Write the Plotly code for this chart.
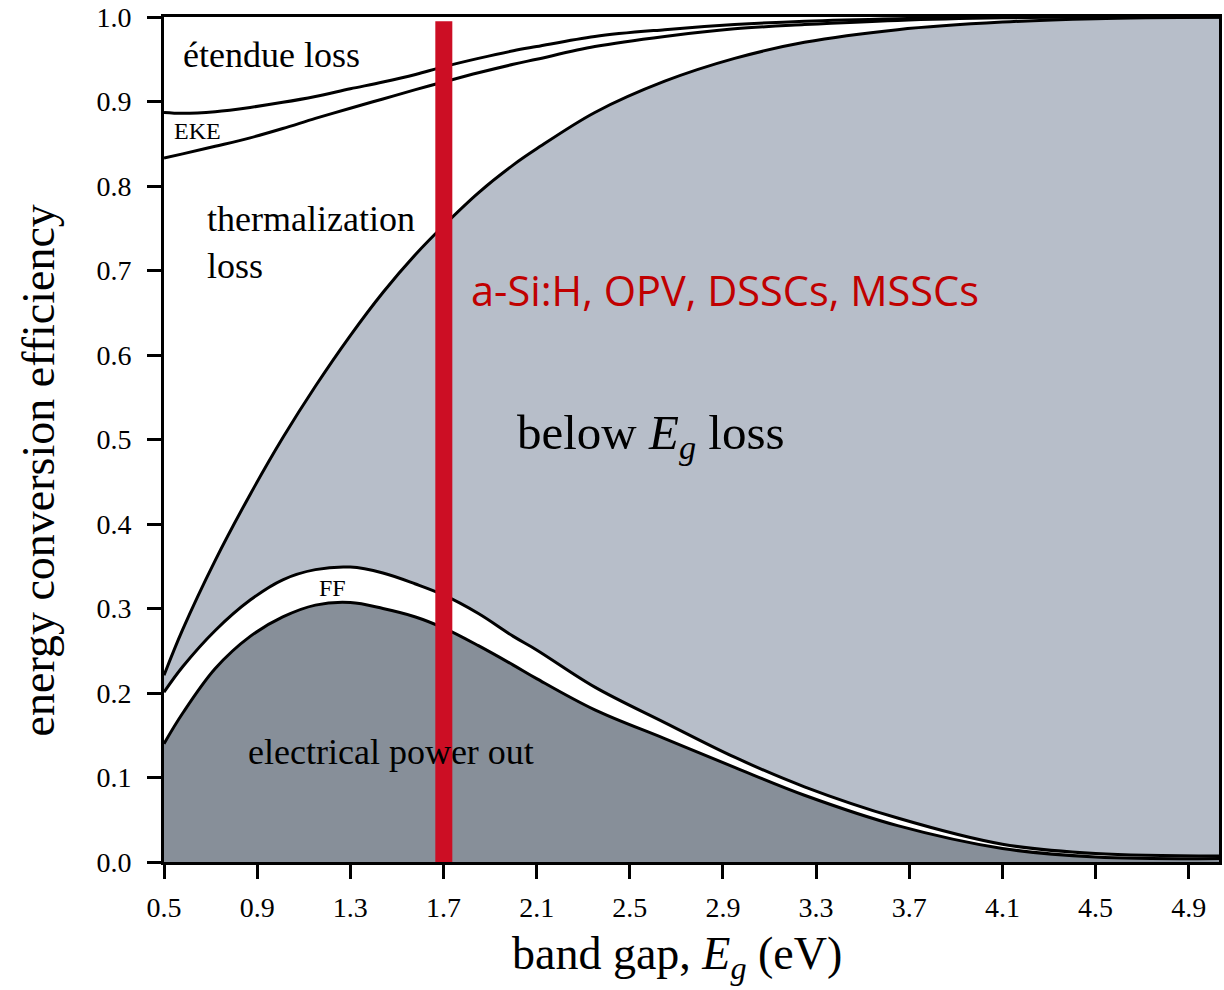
import plotly.graph_objects as go

# Band gap grid (eV)
band_gap = [0.5, 0.58, 0.72, 0.87, 1.01, 1.15, 1.3, 1.44, 1.58, 1.7, 1.85, 2.0, 2.1,
            2.35, 2.65, 2.95, 3.25, 3.65, 4.1, 4.5, 5.03]

# Cumulative boundaries (energy conversion efficiency)
power_out = [0.140, 0.176, 0.229, 0.267, 0.290, 0.304, 0.307, 0.300, 0.290, 0.277, 0.256, 0.233, 0.217,
             0.180, 0.146, 0.112, 0.079, 0.043, 0.016, 0.006, 0.004]
ff_top = [0.201, 0.231, 0.274, 0.310, 0.334, 0.346, 0.349, 0.342, 0.329, 0.316, 0.294, 0.267, 0.251,
          0.207, 0.165, 0.124, 0.089, 0.052, 0.021, 0.010, 0.007]
below_eg_top = [0.221, 0.275, 0.357, 0.435, 0.502, 0.563, 0.623, 0.674, 0.719, 0.753, 0.792, 0.825, 0.844,
                0.887, 0.924, 0.951, 0.970, 0.985, 0.994, 0.998, 1.000]
thermal_top = [0.833, 0.838, 0.847, 0.857, 0.868, 0.880, 0.892, 0.903, 0.914, 0.923, 0.934, 0.944, 0.950,
               0.965, 0.977, 0.986, 0.991, 0.996, 0.999, 1.000, 1.000]
eke_top = [0.887, 0.886, 0.888, 0.893, 0.899, 0.906, 0.915, 0.923, 0.932, 0.941, 0.951, 0.960, 0.965,
           0.977, 0.985, 0.991, 0.995, 0.998, 1.000, 1.000, 1.000]

x_ticks = [0.5, 0.9, 1.3, 1.7, 2.1, 2.5, 2.9, 3.3, 3.7, 4.1, 4.5, 4.9]
y_ticks = [0.0, 0.1, 0.2, 0.3, 0.4, 0.5, 0.6, 0.7, 0.8, 0.9, 1.0]

DARK = "#878f99"
LIGHT = "#b7bec9"
RED = "#cc0e24"
SERIF = "Liberation Serif"

fig = go.Figure()
line = dict(color="black", width=3, shape="spline", smoothing=1.0)

fig.add_trace(go.Scatter(x=band_gap, y=power_out, mode="lines", line=line,
                         fill="tozeroy", fillcolor=DARK, name="electrical power out"))
fig.add_trace(go.Scatter(x=band_gap, y=ff_top, mode="lines", line=line,
                         fill="tonexty", fillcolor="white", name="FF"))
fig.add_trace(go.Scatter(x=band_gap, y=below_eg_top, mode="lines", line=line,
                         fill="tonexty", fillcolor=LIGHT, name="below Eg loss"))
fig.add_trace(go.Scatter(x=band_gap, y=thermal_top, mode="lines", line=line,
                         name="thermalization loss"))
fig.add_trace(go.Scatter(x=band_gap, y=eke_top, mode="lines", line=line,
                         name="EKE"))

# Red marker bar at ~1.7 eV
fig.add_shape(type="rect", x0=1.665, x1=1.738, y0=0, y1=0.995,
              fillcolor=RED, line=dict(width=0), layer="above")

ann = [
    dict(text="étendue loss", x=0.573, y=0.955, xanchor="left", size=36),
    dict(text="EKE", x=0.534, y=0.865, xanchor="left", size=24),
    dict(text="thermalization<br>loss", x=0.676, y=0.733, xanchor="left", size=36),
    dict(text="below <i>E</i><sub><i>g</i></sub> loss", x=2.007, y=0.505, xanchor="left", size=49),
    dict(text="FF", x=1.224, y=0.324, xanchor="center", size=24),
    dict(text="electrical power out", x=0.851, y=0.130, xanchor="left", size=36),
]
for a in ann:
    fig.add_annotation(text=a["text"], x=a["x"], y=a["y"], xref="x", yref="y",
                       xanchor=a["xanchor"], yanchor="middle", showarrow=False, align="left",
                       font=dict(family=SERIF, size=a["size"], color="black"))

fig.add_annotation(text="a-Si:H, OPV, DSSCs, MSSCs", x=1.81, y=0.677, xref="x", yref="y",
                   xanchor="left", yanchor="middle", showarrow=False,
                   font=dict(family="Open Sans", size=41.5, color="#c00000"))

# Axis titles
fig.add_annotation(text="energy conversion efficiency", x=-0.119, y=0.464,
                   xref="paper", yref="paper", textangle=-90, showarrow=False,
                   xanchor="center", yanchor="middle",
                   font=dict(family=SERIF, size=46, color="black"))
fig.add_annotation(text="band gap, <i>E</i><sub><i>g</i></sub> (eV)", x=0.486, y=-0.112,
                   xref="paper", yref="paper", showarrow=False,
                   xanchor="center", yanchor="middle",
                   font=dict(family=SERIF, size=46, color="black"))

fig.update_layout(
    width=1224, height=990,
    margin=dict(l=164, r=2, t=17, b=128),
    paper_bgcolor="white", plot_bgcolor="white",
    showlegend=False,
    font=dict(family=SERIF, color="black"),
)
fig.update_xaxes(range=[0.5, 5.03], tickvals=x_ticks, ticktext=[f"{v:.1f}" for v in x_ticks],
                 ticks="outside", ticklen=14, tickwidth=3, tickcolor="black",
                 showline=True, linewidth=3, linecolor="black", mirror=True,
                 showgrid=False, zeroline=False, tickfont=dict(size=28, family=SERIF),
                 ticklabelstandoff=4)
fig.update_yaxes(range=[0, 1.0], tickvals=y_ticks, ticktext=[f"{v:.1f}" for v in y_ticks],
                 ticks="outside", ticklen=14, tickwidth=3, tickcolor="black",
                 showline=True, linewidth=3, linecolor="black", mirror=True,
                 showgrid=False, zeroline=False, tickfont=dict(size=28, family=SERIF),
                 ticklabelstandoff=10)

fig.write_html("out.html")
